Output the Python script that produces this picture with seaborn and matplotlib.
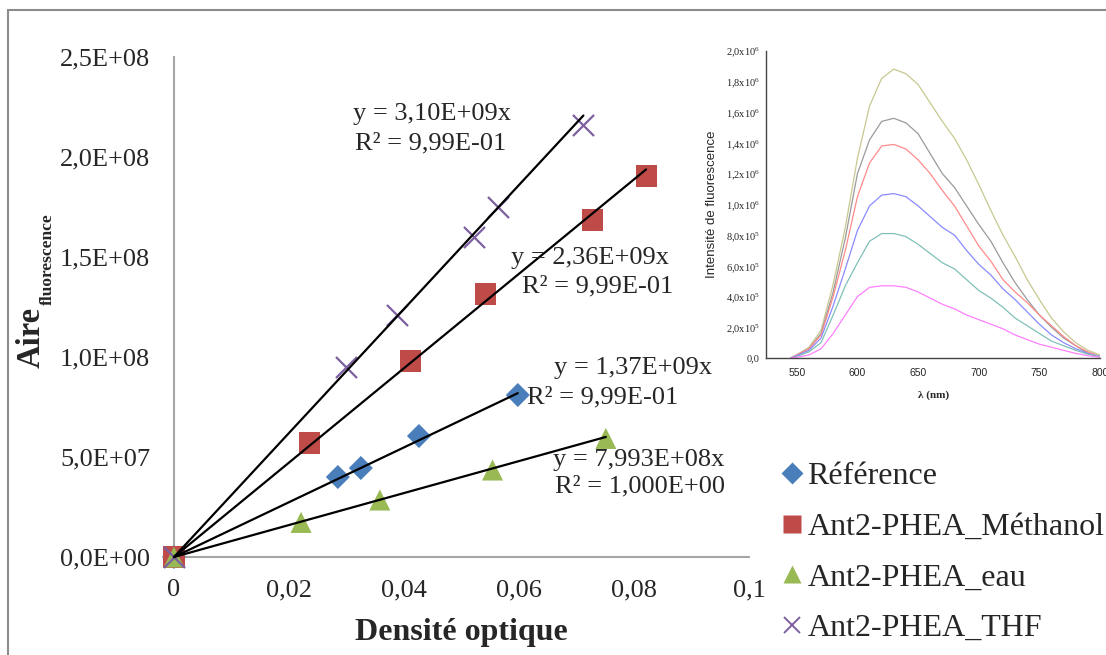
import numpy as np
import pandas as pd
import matplotlib
matplotlib.use('Agg')
import matplotlib.pyplot as plt
import seaborn as sns
from matplotlib.lines import Line2D
from matplotlib.patches import Rectangle

# --- main chart data ---
series_names = ['Référence', 'Ant2-PHEA_Méthanol', 'Ant2-PHEA_eau', 'Ant2-PHEA_THF']

ref_x = [0, 0.0285, 0.0325, 0.0426, 0.0598]
ref_y = [0, 4.0e7, 4.45e7, 6.05e7, 8.1e7]

meoh_x = [0, 0.0235, 0.0412, 0.0542, 0.0728, 0.0821]
meoh_y = [0, 5.7e7, 9.8e7, 1.315e8, 1.685e8, 1.905e8]

eau_x = [0, 0.0221, 0.0358, 0.0554, 0.0751]
eau_y = [0, 1.73e7, 2.85e7, 4.35e7, 5.93e7]

thf_x = [0, 0.0300, 0.0387, 0.0522, 0.0563, 0.0712]
thf_y = [0, 9.5e7, 1.21e8, 1.60e8, 1.75e8, 2.16e8]

slopes = [1.37e9, 2.36e9, 7.993e8, 3.10e9]
eq_labels = [('y = 1,37E+09x', 'R² = 9,99E-01'),
             ('y = 2,36E+09x', 'R² = 9,99E-01'),
             ('y = 7,993E+08x', 'R² = 1,000E+00'),
             ('y = 3,10E+09x', 'R² = 9,99E-01')]

x_ticks = [0, 0.02, 0.04, 0.06, 0.08, 0.1]
x_ticklabels = ['0', '0,02', '0,04', '0,06', '0,08', '0,1']
y_ticks = [0, 5e7, 1e8, 1.5e8, 2e8, 2.5e8]
y_ticklabels = ['0,0E+00', '5,0E+07', '1,0E+08', '1,5E+08', '2,0E+08', '2,5E+08']

# --- inset spectra (intensity in units of 1e5) ---
wl = [545, 550, 560, 570, 580, 590, 600, 610, 620, 630, 640, 650, 660, 670,
      680, 690, 700, 710, 720, 730, 740, 750, 760, 770, 780, 790, 800]
spec_yellow = [0, 0.2, 0.7, 1.8, 4.8, 8.5, 13.0, 16.4, 18.2, 18.8, 18.5, 17.8, 16.6, 15.4,
               14.3, 12.9, 11.3, 9.6, 8.0, 6.6, 5.1, 3.8, 2.6, 1.7, 1.0, 0.5, 0.2]
spec_gray = [0, 0.2, 0.6, 1.6, 4.3, 7.8, 12.0, 14.2, 15.4, 15.6, 15.3, 14.6, 13.3, 12.0,
             11.1, 9.9, 8.7, 7.6, 6.2, 4.9, 3.8, 2.8, 2.0, 1.3, 0.8, 0.3, 0.1]
spec_red = [0, 0.2, 0.6, 1.5, 4.0, 7.0, 10.5, 12.7, 13.8, 13.9, 13.6, 12.9, 12.0, 10.9,
            9.9, 8.6, 7.3, 6.3, 5.1, 4.3, 3.6, 2.8, 2.1, 1.4, 0.8, 0.4, 0.1]
spec_blue = [0, 0.15, 0.5, 1.3, 3.4, 5.8, 8.3, 9.9, 10.6, 10.7, 10.5, 9.9, 9.2, 8.5,
             8.0, 7.0, 6.1, 5.4, 4.5, 3.8, 3.0, 2.2, 1.5, 1.0, 0.6, 0.3, 0.1]
spec_teal = [0, 0.1, 0.4, 1.0, 2.8, 4.7, 6.2, 7.6, 8.1, 8.1, 7.9, 7.4, 6.8, 6.2,
             5.8, 5.1, 4.4, 3.9, 3.3, 2.6, 2.1, 1.6, 1.1, 0.8, 0.5, 0.25, 0.1]
spec_magenta = [0, 0.05, 0.2, 0.6, 1.6, 2.8, 4.0, 4.6, 4.7, 4.7, 4.6, 4.3, 3.9, 3.5,
                3.2, 2.8, 2.5, 2.2, 1.9, 1.5, 1.2, 0.9, 0.7, 0.5, 0.3, 0.15, 0.05]
inset_yticks = [0, 2, 4, 6, 8, 10, 12, 14, 16, 18, 20]
inset_yticklabels = ['0,0', '2,0x10$^5$', '4,0x10$^5$', '6,0x10$^5$', '8,0x10$^5$',
                     '1,0x10$^6$', '1,2x10$^6$', '1,4x10$^6$', '1,6x10$^6$', '1,8x10$^6$',
                     '2,0x10$^6$']

sns.set_style('white')
plt.rcParams['font.family'] = ['Liberation Serif', 'DejaVu Serif']
plt.rcParams['mathtext.fontset'] = 'custom'
plt.rcParams['mathtext.rm'] = 'Liberation Serif'
plt.rcParams['mathtext.it'] = 'Liberation Serif:italic'
plt.rcParams['mathtext.bf'] = 'Liberation Serif:bold'

colors = ['#4a7ebb', '#be4b48', '#98b954', '#7d60a0']
markers = ['D', 's', '^', 'x']
msizes = [150, 230, 230, 230]

df = pd.concat([
    pd.DataFrame({'x': ref_x, 'y': ref_y, 'serie': series_names[0]}),
    pd.DataFrame({'x': meoh_x, 'y': meoh_y, 'serie': series_names[1]}),
    pd.DataFrame({'x': eau_x, 'y': eau_y, 'serie': series_names[2]}),
    pd.DataFrame({'x': thf_x, 'y': thf_y, 'serie': series_names[3]}),
], ignore_index=True)

fig = plt.figure(figsize=(11.06, 6.55), dpi=100)
ax = fig.add_axes([0.1573, 0.1496, 0.5199, 0.7634])

for i, name in enumerate(series_names):
    sub = df[df['serie'] == name]
    if markers[i] == 'x':
        sns.scatterplot(data=sub, x='x', y='y', ax=ax, marker='x', s=msizes[i],
                        color=colors[i], linewidth=1.6, zorder=3, clip_on=False)
    else:
        sns.scatterplot(data=sub, x='x', y='y', ax=ax, marker=markers[i], s=msizes[i],
                        color=colors[i], edgecolor='none', zorder=3, clip_on=False)

# trend lines through origin
for i, name in enumerate(series_names):
    sub = df[df['serie'] == name]
    xmax = sub['x'].max()
    ax.plot([0, xmax], [0, slopes[i] * xmax], color='black', lw=1.6, zorder=4,
            clip_on=False)

# equation labels: (x of eq, y of eq, x of R2, y of R2)
eq_pos = [(0.0798, 9.45e7, 0.0746, 8.0e7),
          (0.0723, 1.495e8, 0.0736, 1.355e8),
          (0.0809, 4.85e7, 0.0810, 3.55e7),
          (0.0449, 2.215e8, 0.0447, 2.07e8)]
for i in range(4):
    xe, y1, xr, y2 = eq_pos[i]
    ax.text(xe, y1, eq_labels[i][0], fontsize=19, ha='center', va='center', zorder=5)
    ax.text(xr, y2, eq_labels[i][1], fontsize=19, ha='center', va='center', zorder=5)

ax.set_xlim(0, 0.1)
ax.set_ylim(0, 2.5e8)
ax.set_xticks(x_ticks)
ax.set_xticklabels(x_ticklabels, fontsize=19)
ax.set_yticks(y_ticks)
ax.set_yticklabels(y_ticklabels, fontsize=19)
ax.tick_params(axis='x', length=0, pad=16)
ax.tick_params(axis='y', length=0, pad=17)
for side in ['top', 'right']:
    ax.spines[side].set_visible(False)
for side in ['left', 'bottom']:
    ax.spines[side].set_color('#a6a6a6')
    ax.spines[side].set_linewidth(1.5)
ax.set_xlabel('Densité optique', fontsize=23, fontweight='bold', labelpad=12)
ax.set_ylabel('')
ax.patch.set_alpha(0)

# y title with small subscript
fig.text(40 / 1106, 1 - 368 / 655, 'Aire', rotation=90, rotation_mode='anchor',
         ha='left', va='baseline', fontsize=23.5, fontweight='bold')
fig.text(52 / 1106, 1 - 305 / 655, 'fluorescence', rotation=90, rotation_mode='anchor',
         ha='left', va='baseline', fontsize=12.5, fontweight='bold')

handles = []
for i, name in enumerate(series_names):
    if markers[i] == 'x':
        handles.append(Line2D([], [], ls='none', marker='x', ms=12, mew=1.4,
                              color=colors[i], label=name))
    else:
        handles.append(Line2D([], [], ls='none', marker=markers[i],
                              ms=13 if markers[i] != 'D' else 11,
                              color=colors[i], mec='none', label=name))
fig.legend(handles=handles, loc='upper left', bbox_to_anchor=(0.6955, 0.314),
           frameon=False, fontsize=23, handlelength=0.65, handletextpad=0.15,
           labelspacing=0.66, borderaxespad=0)

# --- inset spectra ---
ins = fig.add_axes([0.693, 0.4534, 0.3016, 0.4692])
spec_colors = ['#c8c890', '#9a9a9a', '#ff8a8a', '#8a8aff', '#80c0b8', '#ff80ff']
for vals, c in zip([spec_yellow, spec_gray, spec_red, spec_blue, spec_teal, spec_magenta],
                   spec_colors):
    sns.lineplot(x=wl, y=vals, ax=ins, color=c, lw=0.9)
ins.set_xlim(525, 800)
ins.set_ylim(0, 20)
ins.set_xticks([550, 600, 650, 700, 750, 800])
ins.set_xticks([525, 575, 625, 675, 725, 775], minor=True)
ins.set_yticks(inset_yticks)
ins.set_yticks(range(1, 20, 2), minor=True)
ins.set_yticklabels(inset_yticklabels, fontsize=7.5)
for lab in ins.get_xticklabels():
    lab.set_fontfamily('Liberation Sans')
    lab.set_fontsize(7.5)
ins.tick_params(axis='both', which='major', direction='out', length=3, width=0.8,
                color='#555555', pad=2)
ins.tick_params(axis='both', which='minor', direction='out', length=2, width=0.6,
                color='#555555')
ins.tick_params(axis='x', pad=4)
for side in ['top', 'right']:
    ins.spines[side].set_visible(False)
for side in ['left', 'bottom']:
    ins.spines[side].set_color('#444444')
    ins.spines[side].set_linewidth(1.0)
ins.set_xlabel('λ (nm)', fontsize=8, fontweight='bold', labelpad=9)
ins.set_ylabel('Intensité de fluorescence', fontsize=9.5, family='Liberation Sans',
               labelpad=5.5)
ins.patch.set_alpha(0)

# outer frame
fig.patches.append(Rectangle((8 / 1106, -0.05), 1.2, 1.05 - 10 / 655,
                             transform=fig.transFigure, fill=False,
                             edgecolor='#8c8c8c', lw=1.5))

fig.savefig('out.png', dpi=100)
